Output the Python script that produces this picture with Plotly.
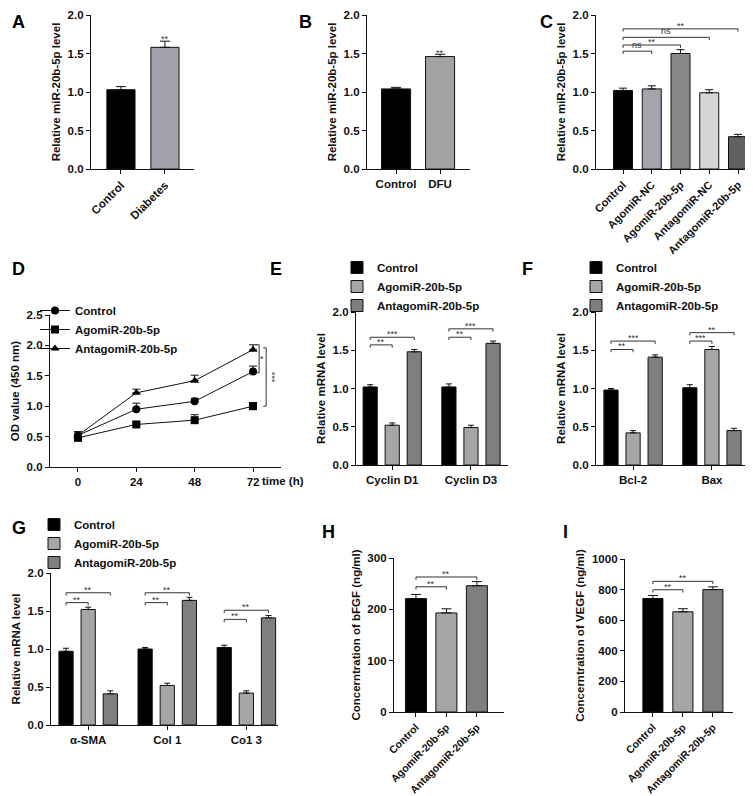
import plotly.graph_objects as go

W, H = 753, 796
FONT = "Liberation Sans, Arial, sans-serif"
INK = "#111111"

# ---------------- data ----------------
a_cats = ["Control", "Diabetes"]
a_vals = [1.03, 1.58]
a_err = [0.04, 0.08]

b_cats = ["Control", "DFU"]
b_vals = [1.04, 1.46]
b_err = [0.02, 0.03]

c_cats = ["Control", "AgomiR-NC", "AgomiR-20b-5p", "AntagomiR-NC", "AntagomiR-20b-5p"]
c_vals = [1.02, 1.04, 1.50, 0.99, 0.42]
c_err = [0.03, 0.04, 0.05, 0.04, 0.03]
c_sig = [(0, 1, 1.53, "ns"), (0, 2, 1.61, "**"), (0, 3, 1.71, "ns"), (0, 4, 1.82, "**")]

d_time = [0, 24, 48, 72]
d_ctrl = [0.52, 0.95, 1.08, 1.57]
d_ctrl_err = [0.06, 0.10, 0.05, 0.09]
d_ago = [0.48, 0.70, 0.77, 1.00]
d_ago_err = [0.04, 0.04, 0.09, 0.06]
d_anta = [0.52, 1.22, 1.42, 1.93]
d_anta_err = [0.06, 0.06, 0.09, 0.08]

series_names = ["Control", "AgomiR-20b-5p", "AntagomiR-20b-5p"]

e_cats = ["Cyclin D1", "Cyclin D3"]
e_ctrl = [1.02, 1.02]; e_ctrl_err = [0.03, 0.04]
e_ago = [0.52, 0.49]; e_ago_err = [0.03, 0.03]
e_anta = [1.48, 1.59]; e_anta_err = [0.03, 0.03]
e_sig = [(0, 1, 1.57, "**"), (0, 2, 1.67, "***"), (1, 1, 1.67, "**"), (1, 2, 1.78, "***")]

f_cats = ["Bcl-2", "Bax"]
f_ctrl = [0.98, 1.01]; f_ctrl_err = [0.02, 0.04]
f_ago = [0.42, 1.51]; f_ago_err = [0.03, 0.04]
f_anta = [1.41, 0.45]; f_anta_err = [0.03, 0.03]
f_sig = [(0, 1, 1.51, "**"), (0, 2, 1.62, "***"), (1, 1, 1.62, "***"), (1, 2, 1.73, "**")]

g_cats = ["α-SMA", "Col 1", "Co1 3"]
g_ctrl = [0.97, 1.00, 1.02]; g_ctrl_err = [0.04, 0.02, 0.03]
g_ago = [1.52, 0.52, 0.42]; g_ago_err = [0.03, 0.03, 0.03]
g_anta = [0.41, 1.64, 1.41]; g_anta_err = [0.04, 0.04, 0.03]
g_sig = [(0, 1, 1.61, "**"), (0, 2, 1.74, "**"), (1, 1, 1.61, "**"), (1, 2, 1.74, "**"),
         (2, 1, 1.39, "**"), (2, 2, 1.51, "**")]

h_cats = ["Control", "AgomiR-20b-5p", "AntagomiR-20b-5p"]
h_vals = [221, 193, 246]
h_err = [8, 8, 8]
h_sig = [(0, 1, 244, "**"), (0, 2, 263, "**")]

i_cats = ["Control", "AgomiR-20b-5p", "AntagomiR-20b-5p"]
i_vals = [742, 655, 800]
i_err = [20, 20, 18]
i_sig = [(0, 1, 799, "**"), (0, 2, 854, "**")]

# ---------------- styles ----------------
BLACK = "#000000"
AGO = "#a6a6a6"
ANTA = "#7f7f7f"
group_colors = [BLACK, AGO, ANTA]
group_offsets = [-0.37, -0.09, 0.19]
group_width = 0.18
SIGC = "#333333"


def xd(p0, p1):
    return [p0 / W, p1 / W]


def yd(top, bot):
    return [1 - bot / H, 1 - top / H]


def tfont(size=11.5):
    return dict(family=FONT, size=size, color=INK, weight="bold")


def base_axis(**kw):
    d = dict(showline=True, linecolor=INK, linewidth=1.3, ticks="outside", ticklen=4,
             tickwidth=1.2, tickcolor=INK, showgrid=False, zeroline=False,
             tickfont=tfont(11.5), automargin=False, fixedrange=True)
    d.update(kw)
    return d


fig = go.Figure()
shapes = []
annotations = []


def err(arr, capw):
    return dict(type="data", array=arr, arrayminus=[0] * len(arr), symmetric=False,
                color=INK, thickness=1, width=capw)


def single_bars(n, cats, vals, errs, colors, width, capw=4):
    fig.add_trace(go.Bar(x=cats, y=vals, xaxis="x" + n, yaxis="y" + n,
                         width=width, marker=dict(color=colors, line=dict(color=INK, width=1)),
                         error_y=err(errs, capw), showlegend=False))


def grouped_bars(n, cats, series, errs, legend):
    for k, (vals, ee) in enumerate(zip(series, errs)):
        fig.add_trace(go.Bar(x=cats, y=vals, xaxis="x" + n, yaxis="y" + n, name=series_names[k],
                             offset=group_offsets[k], width=group_width,
                             marker=dict(color=group_colors[k], line=dict(color=INK, width=1)),
                             error_y=err(ee, 3), legend=legend, showlegend=True))


def bracket(n, x0, x1, y, text, drop, fsize=9):
    for (a, b, c, d) in [(x0, y - drop, x0, y), (x0, y, x1, y), (x1, y, x1, y - drop)]:
        shapes.append(dict(type="line", xref="x" + n, yref="y" + n, x0=a, y0=b, x1=c, y1=d,
                           line=dict(color=SIGC, width=1)))
    annotations.append(dict(xref="x" + n, yref="y" + n, x=(x0 + x1) / 2, y=y, text=text,
                            showarrow=False, yanchor="bottom", yshift=-4 if "*" in text else -1,
                            font=dict(family=FONT, size=fsize, color=SIGC)))


# ---------------- A ----------------
single_bars("", a_cats, a_vals, a_err, [BLACK, "#a2a2aa"], 0.64, 5)
annotations.append(dict(xref="x", yref="y", x=1, y=a_vals[1] + a_err[1], text="**", showarrow=False,
                        yanchor="bottom", yshift=-5, font=dict(family=FONT, size=9, color=SIGC)))
# ---------------- B ----------------
single_bars("2", b_cats, b_vals, b_err, [BLACK, "#a2a2a2"], 0.66, 5)
annotations.append(dict(xref="x2", yref="y2", x=1, y=b_vals[1] + b_err[1], text="**", showarrow=False,
                        yanchor="bottom", yshift=-6, font=dict(family=FONT, size=9, color=SIGC)))
# ---------------- C ----------------
single_bars("3", c_cats, c_vals, c_err, [BLACK, "#a4a4ac", "#888888", "#d6d6d6", "#606060"], 0.66, 4)
for (i0, i1, y, t) in c_sig:
    bracket("3", i0, i1, y, t, 0.036)

# ---------------- D ----------------
for vals, ee, sym, nm in [(d_ctrl, d_ctrl_err, "circle", series_names[0]),
                          (d_ago, d_ago_err, "square", series_names[1]),
                          (d_anta, d_anta_err, "triangle-up", series_names[2])]:
    fig.add_trace(go.Scatter(x=d_time, y=vals, xaxis="x4", yaxis="y4", mode="lines+markers", name=nm,
                             marker=dict(symbol=sym, size=8, color=BLACK),
                             line=dict(color=INK, width=1), error_y=err(ee, 4),
                             legend="legend", showlegend=True))
# vertical significance brackets at 72 h
for xb, ya, yb, t, ang in [(74.5, d_anta[-1] + 0.08, d_ctrl[-1] - 0.02, "*", 0),
                           (77.4, d_anta[-1] + 0.03, d_ago[-1], "***", 90)]:
    for (a, b, c, d) in [(xb - 1.2, ya, xb, ya), (xb, ya, xb, yb), (xb, yb, xb - 1.2, yb)]:
        shapes.append(dict(type="line", xref="x4", yref="y4", x0=a, y0=b, x1=c, y1=d,
                           line=dict(color=SIGC, width=1)))
    annotations.append(dict(xref="x4", yref="y4", x=xb, y=(ya + yb) / 2, text=t, showarrow=False,
                            xanchor="left", xshift=-1, textangle=ang,
                            font=dict(family=FONT, size=9, color=SIGC)))
annotations.append(dict(xref="paper", yref="paper", x=252 / W, y=1 - 473 / H, text="time (h)",
                        showarrow=False, xanchor="left", yanchor="middle", font=tfont(11.5)))

# ---------------- E, F, G ----------------
grouped_bars("5", e_cats, [e_ctrl, e_ago, e_anta], [e_ctrl_err, e_ago_err, e_anta_err], "legend2")
grouped_bars("6", f_cats, [f_ctrl, f_ago, f_anta], [f_ctrl_err, f_ago_err, f_anta_err], "legend3")
grouped_bars("7", g_cats, [g_ctrl, g_ago, g_anta], [g_ctrl_err, g_ago_err, g_anta_err], "legend4")
centers = [o + group_width / 2 for o in group_offsets]
for n, sig in [("5", e_sig), ("6", f_sig), ("7", g_sig)]:
    for (g, k, y, t) in sig:
        bracket(n, g + centers[0], g + centers[k], y, t, 0.036)

# ---------------- H, I ----------------
single_bars("8", h_cats, h_vals, h_err, [BLACK, AGO, ANTA], 0.69, 5)
for (i0, i1, y, t) in h_sig:
    bracket("8", i0, i1, y, t, 5.4)
single_bars("9", i_cats, i_vals, i_err, [BLACK, AGO, ANTA], 0.67, 5)
for (i0, i1, y, t) in i_sig:
    bracket("9", i0, i1, y, t, 18)

# ---------------- panel letters ----------------
for letter, px, py in [("A", 10, 14), ("B", 297, 14), ("C", 538, 14), ("D", 10, 261), ("E", 268, 261),
                       ("F", 519, 261), ("G", 11, 520), ("H", 320, 524), ("I", 557, 524)]:
    annotations.append(dict(xref="paper", yref="paper", x=px / W, y=1 - py / H, text=letter,
                            showarrow=False, xanchor="center", yanchor="middle",
                            font=dict(family=FONT, size=18, color=BLACK, weight="bold")))

ytitle_font = dict(family=FONT, size=11.5, color=INK, weight="bold")
rel_ticks = dict(tickvals=[0, 0.5, 1.0, 1.5, 2.0], tickformat=".1f", range=[0, 2])


def ytitle(t):
    return dict(text=t, font=ytitle_font, standoff=4)


def cat_x(cats, dom, anchor, rng, angle=0, size=11.5):
    return base_axis(domain=dom, anchor=anchor, type="category", categoryorder="array",
                     categoryarray=cats, range=rng, tickangle=angle, tickfont=tfont(size))


leg = dict(bgcolor="rgba(0,0,0,0)", font=tfont(11.5), itemwidth=30, xanchor="left", yanchor="top",
           traceorder="normal", itemclick=False, itemdoubleclick=False, borderwidth=0)

layout = dict(
    width=W, height=H, margin=dict(l=0, r=0, t=0, b=0), paper_bgcolor="white", plot_bgcolor="white",
    barmode="overlay", font=dict(family=FONT, color=INK),
    # A
    xaxis=cat_x(a_cats, xd(83, 186), "y", [-0.68, 1.66], -45),
    yaxis=base_axis(domain=yd(7, 161), anchor="x", title=ytitle("Relative miR-20b-5p level"), **rel_ticks),
    # B
    xaxis2=cat_x(b_cats, xd(359, 462), "y2", [-0.66, 1.68], 0),
    yaxis2=base_axis(domain=yd(7, 161), anchor="x2", title=ytitle("Relative miR-20b-5p level"), **rel_ticks),
    # C
    xaxis3=cat_x(c_cats, xd(588, 751), "y3", [-0.94, 4.73], -45, 11),
    yaxis3=base_axis(domain=yd(7, 161), anchor="x3", title=ytitle("Relative miR-20b-5p level"), **rel_ticks),
    # D
    xaxis4=base_axis(domain=xd(42, 273), anchor="y4", range=[-11.5, 83.5], tickvals=d_time),
    yaxis4=base_axis(domain=yd(307, 459), anchor="x4", range=[0, 2.5],
                     tickvals=[0, 0.5, 1.0, 1.5, 2.0, 2.5], tickformat=".1f",
                     title=ytitle("OD value (450 nm)")),
    # E
    xaxis5=cat_x(e_cats, xd(348, 500), "y5", [-0.46, 1.47], 0),
    yaxis5=base_axis(domain=yd(304, 457), anchor="x5", title=ytitle("Relative mRNA level"), **rel_ticks),
    # F
    xaxis6=cat_x(f_cats, xd(588, 741), "y6", [-0.47, 1.47], 0),
    yaxis6=base_axis(domain=yd(304, 457), anchor="x6", title=ytitle("Relative mRNA level"), **rel_ticks),
    # G
    xaxis7=cat_x(g_cats, xd(43, 270), "y7", [-0.47, 2.40], 0),
    yaxis7=base_axis(domain=yd(565, 717), anchor="x7", title=ytitle("Relative mRNA level"), **rel_ticks),
    # H
    xaxis8=cat_x(h_cats, xd(386, 496), "y8", [-0.72, 2.89], -45, 10.5),
    yaxis8=base_axis(domain=yd(550, 704), anchor="x8", range=[0, 300], tickvals=[0, 100, 200, 300],
                     title=ytitle("Concerntration of bFGF (ng/ml)")),
    # I
    xaxis9=cat_x(i_cats, xd(617, 725), "y9", [-0.93, 2.67], -45, 10.5),
    yaxis9=base_axis(domain=yd(551, 704), anchor="x9", range=[0, 1000], tickvals=[0, 200, 400, 600, 800, 1000],
                     title=ytitle("Concerntration of VEGF (ng/ml)")),
    legend=dict(leg, x=27 / W, y=1 - 288 / H),
    legend2=dict(leg, x=329 / W, y=1 - 245 / H),
    legend3=dict(leg, x=568 / W, y=1 - 245 / H),
    legend4=dict(leg, x=26 / W, y=1 - 502 / H),
    shapes=shapes,
    annotations=annotations,
)
fig.update_layout(**layout)
fig.write_html("out.html")
